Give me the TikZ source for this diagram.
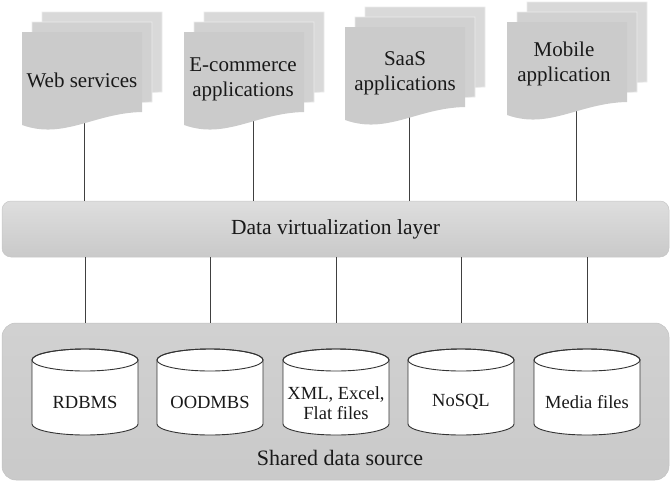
\documentclass[tikz,border=0pt]{standalone}
\usepackage{fontspec}
\setmainfont{Liberation Serif}
\begin{document}
\begin{tikzpicture}[x=1pt,y=-1pt,
  conn/.style={draw=black!75,line width=1pt},
  doctxt/.style={align=center,font=\fontsize{21}{25}\selectfont,text=black!90,inner sep=0pt},
  cyltxt/.style={align=center,font=\fontsize{18.5}{20}\selectfont,text=black!90,inner sep=0pt},
  cylbody/.style={fill=white,draw=black!80,line width=0.9pt},
  sheetA/.style={fill=black!15,draw=black!8,line width=0.7pt},
  sheetB/.style={fill=black!18,draw=black!8,line width=0.7pt},
  sheetC/.style={fill=black!20.5},
  layerbox/.style={rounded corners=9pt,top color=black!13,bottom color=black!21,draw=black!22,line width=0.5pt,
    minimum width=667pt,minimum height=56pt,inner sep=0pt,font=\fontsize{21.5}{25}\selectfont,text=black!90},
  sharedbox/.style={rounded corners=14pt,top color=black!18,bottom color=black!21,draw=black!24,line width=0.5pt,
    minimum width=667pt,minimum height=157pt,inner sep=0pt}
]
\useasboundingbox (0,0) rectangle (672,482);

% a document stack: #1 = left, #2 = top of front sheet, #3 = style
\newcommand{\docsheet}[3]{%
  \path[#3] (#1,#2) -- ({#1+120},#2) -- ({#1+120},{#2+80})
    .. controls ({#1+72},{#2+81}) and ({#1+42},{#2+108}) .. (#1,{#2+93}) -- cycle;}
\newcommand{\docstack}[2]{%
  \docsheet{#1+20}{#2-20}{sheetA}
  \docsheet{#1+10}{#2-10}{sheetB}
  \docsheet{#1}{#2}{sheetC}}

% layers
\node[layerbox] (layer) at (335.5,229) {Data virtualization layer};
\node[sharedbox] (shared) at (335.5,401.5) {};
\node[font=\fontsize{22}{25}\selectfont,text=black!90,inner sep=0pt] (sharedlbl) at (340,458) {Shared data source};

% connector start points under documents
\coordinate (wb) at (84,118);
\coordinate (eb) at (253,118);
\coordinate (sb) at (409,112);
\coordinate (mb) at (576,106);
\foreach \p in {wb,eb,sb,mb} \draw[conn] (\p) -- (\p |- layer.north);

% documents
\docstack{22}{32}
\docstack{184}{32}
\docstack{345}{27}
\docstack{507}{22}
\node[doctxt] (web) at (82,80) {Web services};
\node[doctxt] (ecom) at (243,79) {E-commerce\\applications};
\node[doctxt] (saas) at (405,73) {SaaS\\applications};
\node[doctxt] (mobile) at (564,64) {Mobile\\application};

% cylinders
\foreach \cx/\nm in {85/c1,210/c2,336/c3,461/c4,587/c5}{
  \path[cylbody] ({\cx-53},360) -- ({\cx-53},424) arc[start angle=180,end angle=0,x radius=53,y radius=11]
     -- ({\cx+53},360) arc[start angle=0,end angle=-180,x radius=53,y radius=11] -- cycle;
  \draw[black!80,line width=0.9pt] (\cx,360) ellipse[x radius=53,y radius=11];
  \coordinate (\nm) at (\cx,400);
}
\node[cyltxt] (rdbms) at (85,402) {RDBMS};
\node[cyltxt] (oodmbs) at (210,402) {OODMBS};
\node[cyltxt] (xml) at (336,403) {XML, Excel,\\Flat files};
\node[cyltxt] (nosql) at (461,402) {NoSQL};
\node[cyltxt] (media) at (587,402) {Media files};

% connectors between layer and shared box
\foreach \n in {rdbms,oodmbs,xml,nosql,media}
  \draw[conn] (layer.south -| \n) -- (shared.north -| \n);
\end{tikzpicture}
\end{document}
